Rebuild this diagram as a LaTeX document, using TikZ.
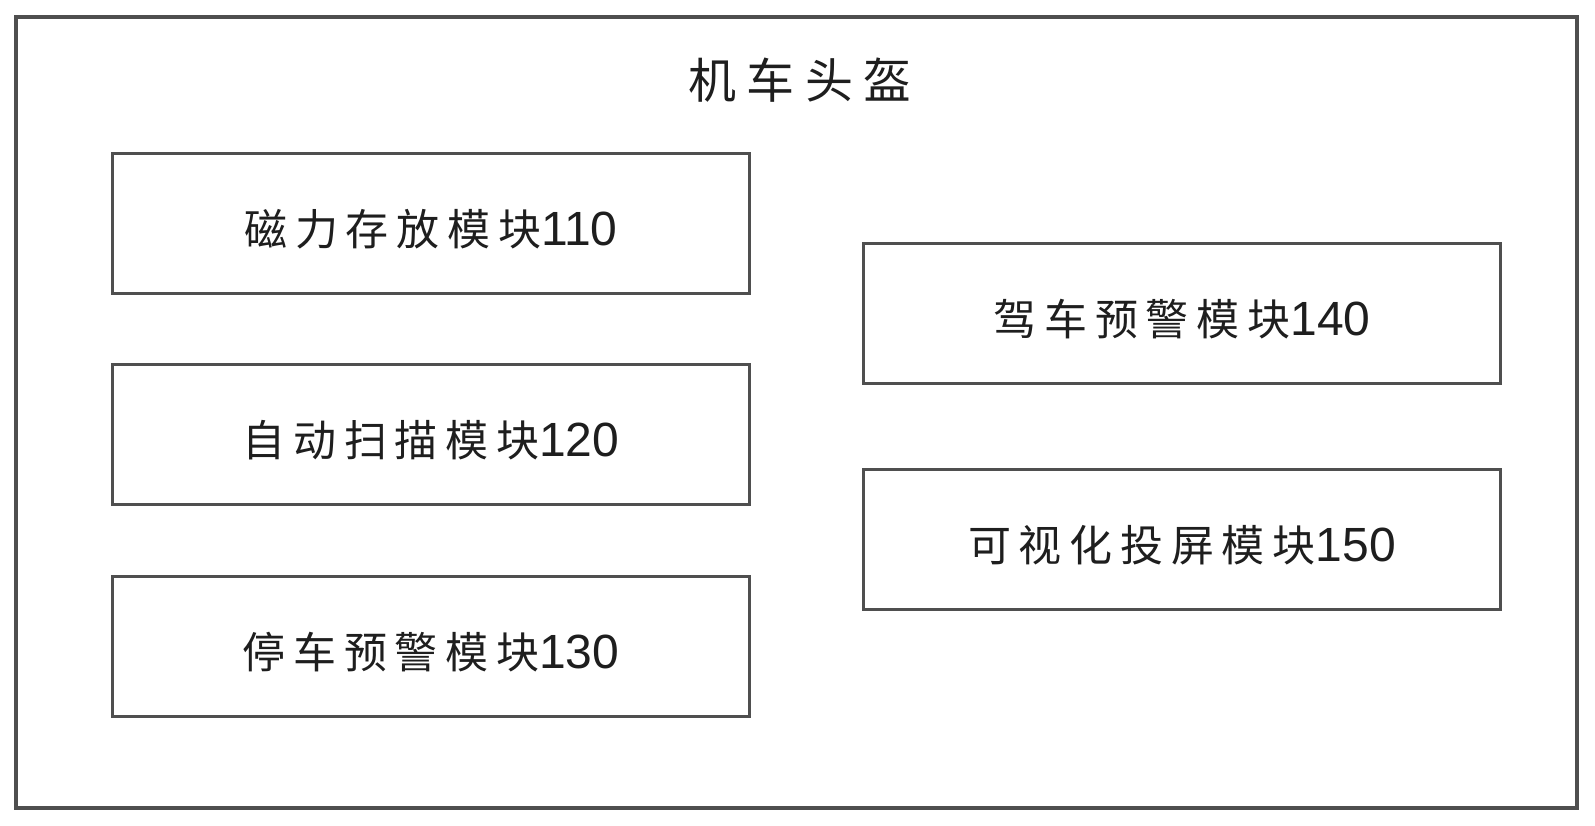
\documentclass[tikz,border=0pt]{standalone}
\usepackage{fontspec}
\newfontfamily\cjk[LetterSpace=18]{Noto Sans CJK SC}
\newfontfamily\cjktitle[LetterSpace=22]{Noto Sans CJK SC}
\newfontfamily\numfont{Liberation Sans}
\newcommand{\lbl}[2]{{\cjk\fontsize{43pt}{47pt}\selectfont #1}{\numfont\fontsize{48pt}{52pt}\selectfont #2}}
\definecolor{edge}{HTML}{4F4F4F}
\definecolor{ink}{HTML}{1E1E1E}
\tikzset{
  frame/.style={draw=edge, line width=3.2pt},
  modbox/.style={draw=edge, line width=3pt, minimum width=637pt, minimum height=140pt, inner sep=0pt},
  labeltext/.style={text=ink, inner sep=0pt},
  title/.style={text=ink, font=\cjktitle\fontsize{48pt}{52pt}\selectfont, inner sep=0pt}
}
\begin{document}
\begin{tikzpicture}[x=1pt,y=-1pt]
\useasboundingbox (0,0) rectangle (1595,825);
\fill[white] (0,0) rectangle (1595,825);
\draw[frame] (16,17) rectangle (1577,808);
\node[title] (t) at (800,80) {机车头盔};
\node[modbox] (m110) at (431,223) {};
\node[modbox] (m120) at (431,434) {};
\node[modbox] (m130) at (431,646) {};
\node[modbox] (m140) at (1182,313) {};
\node[modbox] (m150) at (1182,539) {};
\node[labeltext] (l110) at ([yshift=-6pt]m110.center) {\lbl{磁力存放模块}{110}};
\node[labeltext] (l120) at ([yshift=-6pt]m120.center) {\lbl{自动扫描模块}{120}};
\node[labeltext] (l130) at ([yshift=-6pt]m130.center) {\lbl{停车预警模块}{130}};
\node[labeltext] (l140) at ([yshift=-6pt]m140.center) {\lbl{驾车预警模块}{140}};
\node[labeltext] (l150) at ([yshift=-6pt]m150.center) {\lbl{可视化投屏模块}{150}};
\end{tikzpicture}
\end{document}
